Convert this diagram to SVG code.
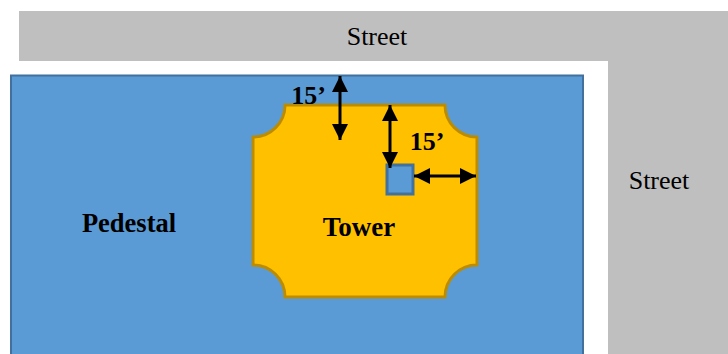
<svg xmlns="http://www.w3.org/2000/svg" width="728" height="354" viewBox="0 0 728 354">
  <style>
    .t { font-family: "Liberation Serif", "Times New Roman", serif; fill: #000; font-size: 26px; text-anchor: middle; }
    .b { font-weight: bold; }
    .c { stroke: #000; stroke-width: 3; fill: none; marker-start: url(#s); marker-end: url(#e); }
  </style>
  <defs>
    <marker id="e" markerUnits="userSpaceOnUse" markerWidth="17" markerHeight="17" refX="16" refY="8.500" orient="auto">
      <path d="M0 0.500L16 8.500L0 16.500Z" fill="#000"/>
    </marker>
    <marker id="s" markerUnits="userSpaceOnUse" markerWidth="17" markerHeight="17" refX="0" refY="8.500" orient="auto">
      <path d="M16 0.500L0 8.500L16 16.500Z" fill="#000"/>
    </marker>
  </defs>
  <rect width="728" height="354" fill="#fff"/>
  <g id="street">
    <path d="M19 11H728V354H608V61H19Z" fill="#bfbfbf"/>
    <text class="t" x="377" y="45">Street</text>
    <text class="t" x="659" y="189">Street</text>
  </g>
  <g id="pedestal">
    <rect x="11" y="75.500" width="572" height="300" fill="#5b9bd5" stroke="#41719c" stroke-width="2"/>
    <text class="t b" x="129" y="232" style="font-size:26.500px">Pedestal</text>
  </g>
  <g id="tower">
    <path d="M285 105H445A32 32 0 0 0 477 137V265A32 32 0 0 0 445 297H285A32 32 0 0 0 253 265V137A32 32 0 0 0 285 105Z" fill="#ffc000" stroke="#bc8c00" stroke-width="3"/>
    <text class="t b" x="359" y="236" style="font-size:27px">Tower</text>
  </g>
  <g id="core">
    <rect x="387" y="165" width="26" height="29" fill="#5b9bd5" stroke="#41719c" stroke-width="3"/>
  </g>
  <g id="connectors">
    <line class="c" x1="340" y1="76" x2="340" y2="140"/>
    <line class="c" x1="390" y1="105" x2="390" y2="168"/>
    <line class="c" x1="414" y1="176" x2="476" y2="176"/>
  </g>
  <g id="labels">
    <text class="t b" x="308.500" y="104">15’</text>
    <text class="t b" x="427" y="150">15’</text>
  </g>
</svg>
